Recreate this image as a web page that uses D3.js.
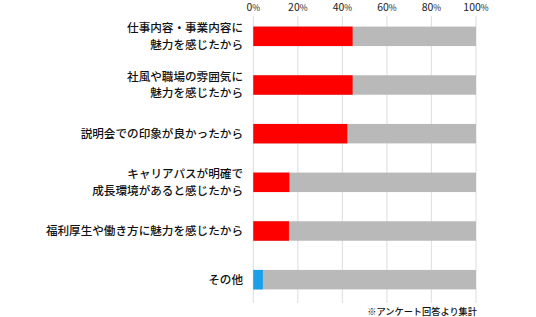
<!DOCTYPE html>
<html>
<head>
<meta charset="utf-8">
<script src="https://cdn.jsdelivr.net/npm/d3@7"></script>
<style>
  body { margin: 0; background: #fff; }
  svg { display: block; font-family: "Noto Sans CJK JP", sans-serif; }
</style>
</head>
<body>
<figure id="bar" style="margin:0"></figure>
<script>
// categories (each label split in display lines)
const categories = [
  ["仕事内容・事業内容に", "魅力を感じたから"],
  ["社風や職場の雰囲気に", "魅力を感じたから"],
  ["説明会での印象が良かったから"],
  ["キャリアパスが明確で", "成長環境があると感じたから"],
  ["福利厚生や働き方に魅力を感じたから"],
  ["その他"]
];
const values = [44.6, 44.6, 42.2, 16.2, 16, 4.3];
const barColors = ["#ff0000", "#ff0000", "#ff0000", "#ff0000", "#ff0000", "#1aa0e8"];
const tickValues = [0, 20, 40, 60, 80, 100];
const note = "※アンケート回答より集計";

const width = 536, height = 317;
const plotLeft = 253.3, plotRight = 476, plotTop = 12, plotBottom = 304;

const svg = d3.select("figure#bar")
  .append("svg")
  .attr("width", width)
  .attr("height", height);

const x = d3.scaleLinear().domain([0, 100]).range([plotLeft, plotRight]);
const y = d3.scaleBand()
  .domain(d3.range(categories.length))
  .range([plotTop, plotBottom])
  .paddingInner(0.6)
  .paddingOuter(0.3);

// gridlines
svg.append("g")
  .selectAll("line")
  .data(tickValues)
  .enter()
  .append("line")
  .attr("x1", d => x(d)).attr("x2", d => x(d))
  .attr("y1", 16).attr("y2", 303)
  .attr("stroke", "#e2e2e2")
  .attr("stroke-width", 1.2);

// top tick labels
const tl = svg.append("g")
  .selectAll("text")
  .data(tickValues)
  .enter()
  .append("text")
  .attr("x", d => x(d))
  .attr("y", 10.5)
  .attr("text-anchor", "middle")
  .attr("fill", "#222")
  .style("font-size", "10.5px");
tl.append("tspan").text(d => d);
tl.append("tspan").style("font-size", "8.5px").text("%");

// background (100%) bars
svg.append("g")
  .selectAll("rect")
  .data(values)
  .enter()
  .append("rect")
  .attr("x", x(0))
  .attr("y", (d, i) => y(i))
  .attr("width", x(100) - x(0))
  .attr("height", y.bandwidth())
  .attr("fill", "#b9b9b9");

// value bars
svg.append("g")
  .selectAll("rect")
  .data(values)
  .enter()
  .append("rect")
  .attr("x", x(0))
  .attr("y", (d, i) => y(i))
  .attr("width", d => x(d) - x(0))
  .attr("height", y.bandwidth())
  .attr("fill", (d, i) => barColors[i]);

// category labels
const lineH = 16.5;
const lab = svg.append("g")
  .selectAll("text")
  .data(categories)
  .enter()
  .append("text")
  .attr("text-anchor", "end")
  .attr("fill", "#111")
  .style("font-size", "11.6px")
  .style("font-weight", 500);
lab.each(function(d, i) {
  const cy = y(i) + y.bandwidth() / 2;
  const y0 = cy - (d.length - 1) * lineH / 2 + 4;
  d3.select(this).selectAll("tspan")
    .data(d)
    .enter()
    .append("tspan")
    .attr("x", 243)
    .attr("y", (t, j) => y0 + j * lineH)
    .text(t => t);
});

// footnote
svg.append("text")
  .attr("x", 477)
  .attr("y", 315)
  .attr("text-anchor", "end")
  .attr("fill", "#111")
  .style("font-size", "9.2px")
  .style("font-weight", 500)
  .text(note);
</script>
</body>
</html>
